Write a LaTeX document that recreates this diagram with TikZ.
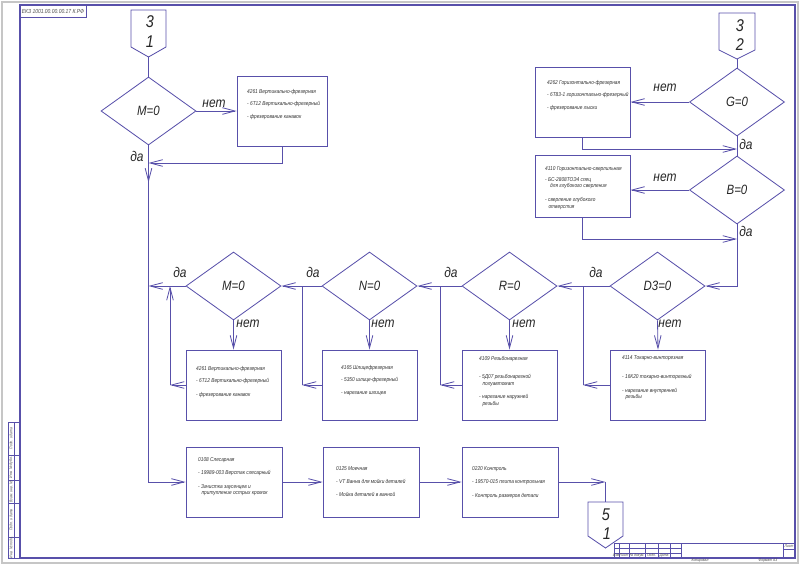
\documentclass[tikz,border=0pt]{standalone}
\usepackage{fontspec}
\newfontfamily\gostfont[FakeStretch=0.85]{Liberation Sans}
\usetikzlibrary{shapes.geometric,arrows.meta}
\definecolor{frameblue}{RGB}{88,80,170}
\begin{document}
\begin{tikzpicture}[x=0.3mm,y=-0.3mm,
  ln/.style={draw=frameblue,line width=0.7pt},
  arr/.style={ln,-{Straight Barb[length=3.8mm,width=2mm]}},
  cond/.style={diamond,ln,minimum width=28.5mm,minimum height=20.4mm,inner sep=0pt,text=black!85,font=\gostfont\itshape\fontsize{11.5}{11.5}\selectfont},
  opbox/.style={rectangle,ln,minimum width=28.5mm,minimum height=21mm,inner sep=0pt},
  optext/.style={anchor=north west,align=left,inner sep=0pt,text=black!80,font=\gostfont\itshape\fontsize{4.8}{5.6}\selectfont},
  yesno/.style={inner sep=0pt,text=black!85,font=\gostfont\itshape\fontsize{12}{12}\selectfont},
  refnum/.style={inner sep=0pt,text=black!85,font=\gostfont\itshape\fontsize{14.5}{14.5}\selectfont},
  stamp/.style={inner sep=0pt,text=black!70,font=\gostfont\itshape\fontsize{3.4}{3.6}\selectfont}]
\useasboundingbox (0,0) rectangle (800,565);
\fill[white] (0,0) rectangle (800,565);
\draw[gray!45,line width=1.5pt] (2,2) rectangle (798,563);
\draw[ln,line width=0.9pt] (20,5) rectangle (795,558);
\draw[ln] (20,5) rectangle (86,17);
\node[stamp,font=\gostfont\itshape\fontsize{5}{5}\selectfont] (st) at (53,11) {ЕКЗ 1001.00.00.00.17 К.РФ};
\draw[ln] (8,422) rectangle (20,558);
\draw[ln] (14,422) -- (14,558);
\foreach \y in {455,480,503,537} \draw[ln] (8,\y) -- (20,\y);
\node[stamp,rotate=90] (l1) at (11,438.5) {Подп. и дата};
\node[stamp,rotate=90] (l2) at (11,467.5) {Инв. № дубл.};
\node[stamp,rotate=90] (l3) at (11,491.5) {Взам. инв. №};
\node[stamp,rotate=90] (l4) at (11,520) {Подп. и дата};
\node[stamp,rotate=90] (l5) at (11,547.5) {Инв. № подл.};
\draw[ln] (614,543) rectangle (795,558);
\foreach \x in {619,629,645,658,670,681,783} \draw[ln] (\x,543) -- (\x,558);
\draw[ln] (614,548) -- (681,548);
\draw[ln] (614,553) -- (681,553);
\draw[ln] (783,549) -- (795,549);
\node[stamp] (h1) at (616.5,555.5) {Изм.};
\node[stamp] (h2) at (624,555.5) {Лист};
\node[stamp] (h3) at (637,555.5) {№ докум.};
\node[stamp] (h4) at (651.5,555.5) {Подп.};
\node[stamp] (h5) at (664,555.5) {Дата};
\node[stamp] (h6) at (789,546) {Лист};
\node[stamp] (h7) at (700,561) {Копировал};
\node[stamp] (h8) at (768,561) {Формат А3};
\draw[ln] (131,10) -- (166,10) -- (166,47) -- (148.5,57) coordinate (p31) -- (131,47) -- cycle;
\node[refnum] (n31a) at (150,22) {3};
\node[refnum] (n31b) at (150,42) {1};
\draw[ln] (719,13) -- (755,13) -- (755,50) -- (737,59) coordinate (p32) -- (719,50) -- cycle;
\node[refnum] (n32a) at (740,26) {3};
\node[refnum] (n32b) at (740,45) {2};
\draw[ln] (588,502) -- (605.5,502) coordinate (p51) -- (623,502) -- (623,536) -- (605.5,548) -- (588,536) -- cycle;
\node[refnum] (n51a) at (606,515) {5};
\node[refnum] (n51b) at (607,534) {1};
\node[cond] (m1) at (148.5,111) {M=0};
\node[opbox,minimum width=27mm] (b1) at (282,111) {};
\node[optext] (t1) at (247,89) {4261 Вертикально-фрезерная\\[5pt]- 6Т12 Вертикально-фрезерный\\[5pt]- фрезерование канавок};
\draw[ln] (p31) -- (m1.north);
\draw[arr] (m1.east) -- (b1.west);
\node[yesno] (y1) at (214,104) {нет};
\coordinate (j1) at (148.5,163);
\draw[arr] (b1.south) |- (j1);
\node[yesno] (y2) at (137,156) {да};
\node[opbox,minimum width=28.8mm] (s1) at (234,482) {};
\node[optext] (t2) at (198,457) {0108 Слесарная\\[6pt]- 19989-003 Верстак слесарный\\[6pt]- Зачистка заусенцев и\\\hspace{1mm}притупление острых кромок};
\draw[arr] (m1.south) |- (s1.west);
\draw[arr] (m1.south) -- ++(0,37);
\node[cond] (g) at (737,102) {G=0};
\node[opbox] (bg) at (582.5,102) {};
\node[optext] (t3) at (547,80) {4262 Горизонтально-фрезерная\\[5pt]- 6Т83-1 горизонтально-фрезерный\\[5pt]- фрезерование лыски};
\draw[ln] (p32) -- (g.north);
\draw[arr] (g.west) -- (bg.east);
\node[yesno] (y3) at (665,88) {нет};
\node[cond] (b) at (737,190) {B=0};
\draw[ln] (g.south) -- (b.north);
\coordinate (jg) at (737,149);
\draw[arr] (bg.south) |- (jg);
\node[yesno] (y4) at (746,144) {да};
\node[opbox,minimum height=18.6mm] (bb) at (582.5,186) {};
\node[optext] (t4) at (545,166) {4110 Горизонтально-сверлильная\\[4pt]- БС-2808ТОЭ4 спец\\\hspace{1.5mm}для глубокого сверления\\[6pt]- сверление глубокого\\\hspace{1mm}отверстия};
\draw[arr] (b.west) -- (b.west -| bb.east);
\node[yesno] (y5) at (665,178) {нет};
\coordinate (jb) at (737,239);
\draw[arr] (bb.south) |- (jb);
\node[yesno] (y6) at (746,231) {да};
\node[cond] (d3) at (657.5,286) {D3=0};
\node[cond] (r) at (509.5,286) {R=0};
\node[cond] (n) at (369.5,286) {N=0};
\node[cond] (m2) at (233.5,286) {M=0};
\coordinate (j2) at (148.5,286);
\draw[arr] (b.south) |- (d3.east);
\draw[arr] (d3.west) -- (r.east);
\node[yesno] (y7) at (596,272) {да};
\draw[arr] (r.west) -- (n.east);
\node[yesno] (y8) at (451,272) {да};
\draw[arr] (n.west) -- (m2.east);
\node[yesno] (y9) at (313,272) {да};
\draw[arr] (m2.west) -- (j2);
\node[yesno] (y10) at (180,272) {да};
\node[opbox] (bd3) at (658,385) {};
\node[optext] (t5) at (622,355) {4114 Токарно-винторезная\\[11pt]- 16К20 токарно-винторезный\\[6pt]- нарезание внутренней\\\hspace{1mm}резьбы};
\node[opbox] (br) at (509.5,385) {};
\node[optext] (t6) at (479,356) {4109 Резьбонарезная\\[10pt]- 5Д07 резьбонарезной\\\hspace{1mm}полуавтомат\\[6pt]- нарезание наружней\\\hspace{1mm}резьбы};
\node[opbox] (bn) at (369.5,385) {};
\node[optext] (t7) at (341,365) {4165 Шлицефрезерная\\[5pt]- 5350 шлице-фрезерный\\[5pt]- нарезание шлицев};
\node[opbox] (bm) at (233.5,385) {};
\node[optext] (t8) at (196,366) {4261 Вертикально-фрезерная\\[5pt]- 6Т12 Вертикально-фрезерный\\[6pt]- фрезерование канавок};
\draw[arr] (d3.south) -- (bd3.north);
\node[yesno] (y11) at (670,324) {нет};
\draw[arr] (r.south) -- (br.north);
\node[yesno] (y12) at (524,324) {нет};
\draw[arr] (n.south) -- (bn.north);
\node[yesno] (y13) at (383,324) {нет};
\draw[arr] (m2.south) -- (bm.north);
\node[yesno] (y14) at (248,324) {нет};
\coordinate (rd3) at (583,385);
\draw[arr] (bd3.west) -- (rd3);
\draw[ln] (rd3) -- (rd3 |- d3.west);
\coordinate (rr) at (440,385);
\draw[arr] (br.west) -- (rr);
\draw[ln] (rr) -- (rr |- r.west);
\coordinate (rn) at (302,385);
\draw[arr] (bn.west) -- (rn);
\draw[ln] (rn) -- (rn |- n.west);
\coordinate (rm) at (170,385);
\draw[arr] (bm.west) -- (rm);
\draw[arr] (rm) -- (rm |- m2.west);
\node[opbox,minimum width=28.8mm] (s2) at (371,482) {};
\node[optext] (t9) at (336,466) {0125 Моечная\\[6pt]- VT Ванна для мойки деталей\\[5pt]- Мойка деталей в ванной};
\node[opbox,minimum width=28.8mm] (s3) at (510,482) {};
\node[optext] (t10) at (472,466) {0220 Контроль\\[6pt]- 19570-015 плита контрольная\\[6pt]- Контроль размеров детали};
\draw[arr] (s1.east) -- (s2.west);
\draw[arr] (s2.east) -- (s3.west);
\coordinate (k) at (605.5,482);
\draw[arr] (s3.east) -- (k);
\draw[ln] (k) -- (p51);
\end{tikzpicture}
\end{document}
